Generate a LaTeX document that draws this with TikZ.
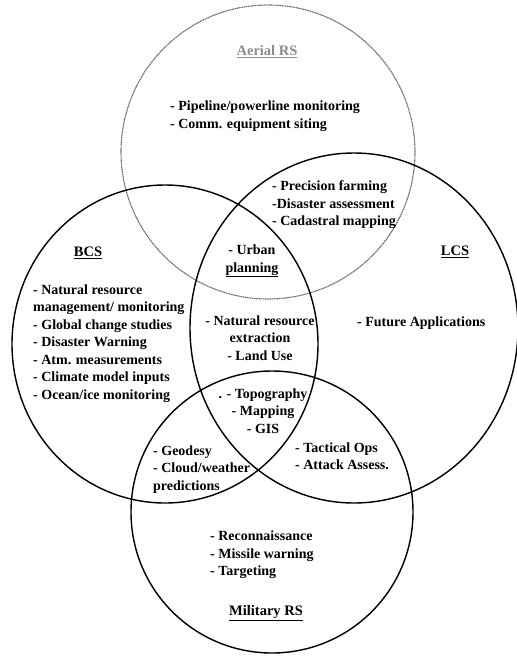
\documentclass[tikz,border=0pt]{standalone}
\usepackage{fontspec}
\setmainfont{Liberation Serif}
\usepackage{tikz}

\tikzset{
	txt/.style={inner sep=0pt, font=\fontsize{14}{17.5}\selectfont\bfseries},
	head/.style={txt, font=\fontsize{14.5}{17.5}\selectfont\bfseries},
	ring/.style={line width=0.5mm, color=black},
}

\begin{document}
\begin{tikzpicture}[x=1pt, y=-1pt]
		%%%%% START %%%%%
		
		\useasboundingbox (0, 0) rectangle (517, 657);
		
		% the four circles
		\draw[line width=0.4mm, color=black!60, dash pattern=on 1.2pt off 0.6pt] (268, 152) circle (147pt);
		\draw[ring] (165, 344) ellipse (153pt and 159pt);
		\draw[ring] (354, 328) ellipse (164pt and 175pt);
		\draw[ring] (272, 512) circle (141pt);
		
		% Aerial RS
		\node[head, color=black!45] (aerialtitle) at (267, 52) {\underline{Aerial RS}};
		\node[txt, anchor=west, align=left] (aeriallist) at (170, 116) {- Pipeline/powerline monitoring\\- Comm. equipment siting};
		\node[txt, anchor=west, align=left] (farmlist) at (272, 205) {- Precision farming\\-Disaster assessment\\- Cadastral mapping};
		
		% BCS
		\node[head] (bcstitle) at (88, 253) {\underline{BCS}};
		\node[txt, anchor=west, align=left] (bcslist) at (33, 343.5) {- Natural resource\\management/ monitoring\\- Global change studies\\- Disaster Warning\\- Atm. measurements\\- Climate model inputs\\- Ocean/ice monitoring};
		\node[txt, align=center] (urban) at (252, 261) {- Urban\\\underline{planning}};
		\node[txt, align=center] (natres) at (260, 338) {- Natural resource\\extraction\\- Land Use};
		
		% LCS
		\node[head] (lcstitle) at (455, 252) {\underline{LCS}};
		\node[txt, anchor=west] (future) at (357, 323) {- Future Applications};
		
		\node[txt, align=center] (topo) at (263, 411) {. - Topography\\- Mapping\\- GIS};
		\node[txt, anchor=west, align=left] (tactical) at (295, 456) {- Tactical Ops\\- Attack Assess.};
		\node[txt, anchor=west, align=left] (geodesy) at (153, 469.5) {- Geodesy\\- Cloud/weather\\predictions};
		
		% Military RS
		\node[txt, anchor=west, align=left] (recon) at (210, 555) {- Reconnaissance\\- Missile warning\\- Targeting};
		\node[head] (miltitle) at (266, 613) {\underline{Military RS}};
		
		%%%%% END %%%%%
	\end{tikzpicture}
\end{document}
